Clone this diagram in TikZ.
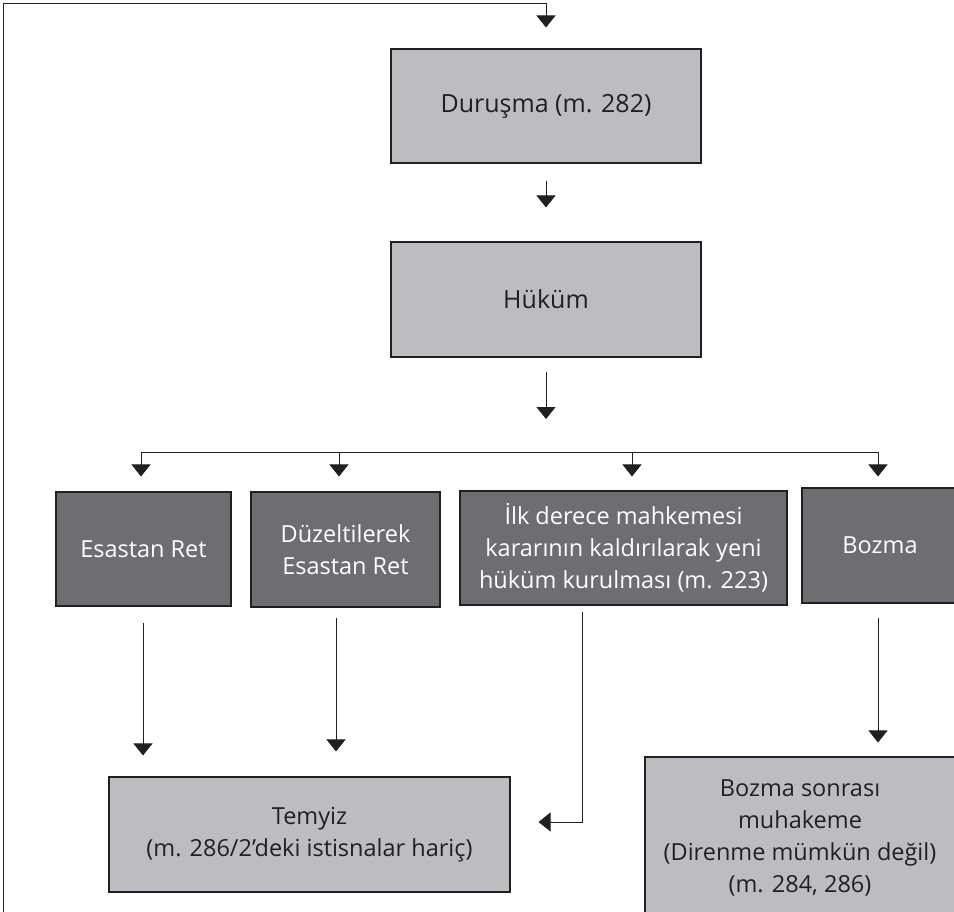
\documentclass[tikz,border=0pt]{standalone}
\usepackage{fontspec}
\setmainfont{Open Sans}
\usetikzlibrary{arrows.meta}
\definecolor{lightbox}{HTML}{BCBDC0}
\definecolor{darkbox}{HTML}{6D6E71}
\definecolor{ink}{HTML}{231F20}
\tikzset{
  boxbase/.style={draw=ink, line width=1.1pt, align=center, inner sep=0pt,
    font=\fontsize{23.5}{32}\selectfont},
  lbox/.style={boxbase, fill=lightbox, text=ink},
  dbox/.style={boxbase, fill=darkbox, text=white},
  bigtext/.style={font=\fontsize{25}{32}\selectfont},
  conn/.style={draw=ink, line width=0.9pt},
  arr/.style={conn, -{Triangle[width=19pt,length=12pt]}},
}
\begin{document}
\begin{tikzpicture}[x=1pt,y=-1pt]
\clip (0,0) rectangle (954,912);
\fill[white] (0,0) rectangle (954,912);
% nodes
\node[lbox, bigtext, minimum width=310pt, minimum height=114pt] (dur) at (546,106) {Duruşma (m. 282)};
\node[lbox, bigtext, minimum width=310pt, minimum height=115pt] (huk) at (546,299.5) {Hüküm};
\node[dbox, minimum width=175pt, minimum height=114pt] (esr) at (143.5,549) {Esastan Ret};
\node[dbox, minimum width=189pt, minimum height=115pt] (dzr) at (345.5,549.5) {Düzeltilerek\\Esastan Ret};
\node[dbox, minimum width=327pt, minimum height=114pt] (ilk) at (623.5,548) {İlk derece mahkemesi\\kararının kaldırılarak yeni\\hüküm kurulması (m. 223)};
\node[dbox, minimum width=156pt, minimum height=115pt] (boz) at (880,545.5) {Bozma};
\node[lbox, minimum width=401pt, minimum height=115pt] (tem) at (309.5,834.5) {Temyiz\\(m. 286/2’deki istisnalar hariç)};
\node[lbox, minimum width=310pt, minimum height=162pt] (bsm) at (800,838) {Bozma sonrası\\muhakeme\\(Direnme mümkün değil)\\(m. 284, 286)};
% coordinates
\coordinate (fb) at (3,920);
\coordinate (fbtop) at (3,3);
\coordinate (hukend) at (546,419);
\coordinate (b1) at (141,452);
\coordinate (b2) at (339,452);
\coordinate (b3) at (632,452);
\coordinate (b4) at (878,452);
\coordinate (ilkturn) at (582,822);
% connectors
\draw[arr, shorten >=21pt] (fb) -- (fbtop) -| (dur.north);
\draw[arr, shorten <=17pt, shorten >=34pt] (dur.south) -- (huk.north);
\draw[arr, shorten <=14pt] (huk.south) -- (hukend);
\draw[conn] (b1) -- (b4);
\draw[arr, shorten >=15pt] (b1) -- (b1 |- esr.north);
\draw[arr, shorten >=15pt] (b2) -- (b2 |- dzr.north);
\draw[arr, shorten >=14pt] (b3) -- (b3 |- ilk.north);
\draw[arr, shorten >=11pt] (b4) -- (b4 |- boz.north);
\draw[arr, shorten <=16pt, shorten >=21pt] (esr.south -| 143,0) -- (143,0 |- tem.north);
\draw[arr, shorten <=10pt, shorten >=25pt] (dzr.south -| 336,0) -- (336,0 |- tem.north);
\draw[arr, shorten <=6pt, shorten >=28pt] (ilk.south -| ilkturn) -- (ilkturn) -- (ilkturn -| tem.east);
\draw[arr, shorten <=14pt, shorten >=14pt] (boz.south -| 878,0) -- (878,0 |- bsm.north);
\end{tikzpicture}
\end{document}
